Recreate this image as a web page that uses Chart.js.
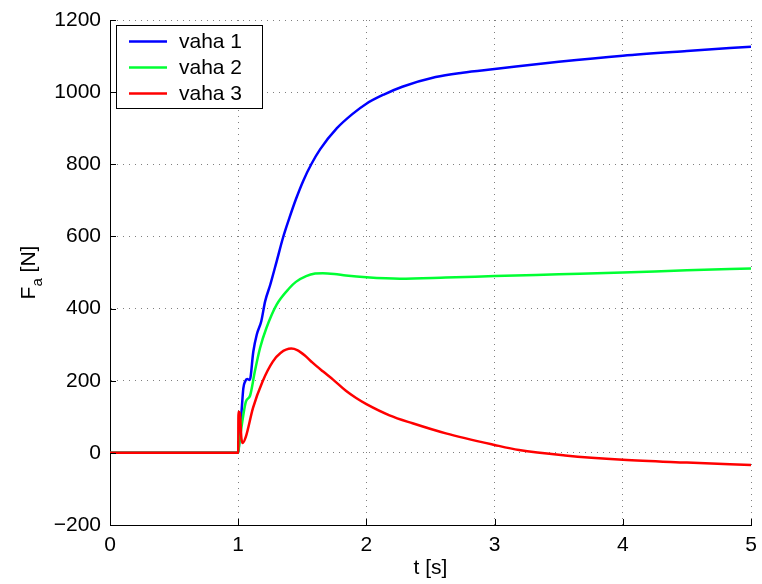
<!DOCTYPE html>
<html>
<head>
<meta charset="utf-8">
<script src="https://cdn.jsdelivr.net/npm/chart.js@4.4.1/dist/chart.umd.min.js"></script>
<style>
  html, body { margin: 0; padding: 0; background: #fff; }
  #wrap { width: 762px; height: 584px; }
</style>
</head>
<body>
<div id="wrap"><canvas id="fa-chart" width="762" height="584"></canvas></div>
<script>
// time samples [s] and force [N] for each scale
var t1 = [0, 1.0, 1.01, 1.028, 1.04, 1.054, 1.07, 1.09, 1.118, 1.145, 1.18, 1.21, 1.25, 1.30, 1.35, 1.40, 1.45, 1.507, 1.57, 1.64, 1.77, 1.89, 2.0, 2.14, 2.28, 2.54, 2.75, 3.0, 3.5, 4.0, 4.5, 5.0];
var vaha1 = [0, 0, 40, 124, 179, 198, 205, 202, 281, 328, 365, 420, 466, 531, 597, 652, 703, 754, 800, 842, 900, 939, 968, 994, 1015, 1042, 1054, 1064, 1084, 1101, 1114, 1126];

var t2 = [0, 1.0, 1.01, 1.04, 1.06, 1.093, 1.13, 1.17, 1.22, 1.30, 1.40, 1.45, 1.53, 1.60, 1.66, 1.75, 1.84, 2.0, 2.26, 2.62, 3.0, 3.5, 4.0, 4.5, 5.0];
var vaha2 = [0, 0, 30, 105, 142, 159, 226, 290, 346, 411, 457, 474, 490, 497, 498, 496, 492, 487, 483, 486, 490, 495, 500, 506, 511];

var t3 = [0, 1.0, 1.002, 1.012, 1.025, 1.035, 1.06, 1.115, 1.19, 1.27, 1.33, 1.414, 1.46, 1.52, 1.58, 1.66, 1.74, 1.84, 1.92, 2.0, 2.18, 2.36, 2.62, 3.0, 3.19, 3.55, 4.0, 4.5, 5.0];
var vaha3 = [0, 0, 114, 110, 40, 27, 45, 124, 198, 253, 277, 289, 285, 270, 250, 226, 203, 172, 152, 135, 104, 82, 54, 22, 8, -7, -19, -27, -34];

var xTicks = [0, 1, 2, 3, 4, 5];
var yTicks = [-200, 0, 200, 400, 600, 800, 1000, 1200];

var FONT = "'Liberation Sans', Arial, Helvetica, sans-serif";
var FSIZE = 21;

function toPoints(ts, vs) {
  return ts.map(function (t, i) { return { x: t, y: vs[i] }; });
}

// inward ticks, y label with subscript, x label and the boxed legend
var axisDecor = {
  id: 'axisDecor',
  afterDraw: function (chart) {
    var ctx = chart.ctx, a = chart.chartArea;
    var xs = chart.scales.x, ys = chart.scales.y;
    ctx.save();
    ctx.strokeStyle = '#000';
    ctx.lineWidth = 1;
    ctx.beginPath();
    xs.ticks.forEach(function (tk) {
      var px = Math.round(xs.getPixelForValue(tk.value)) + 0.5;
      ctx.moveTo(px, a.bottom);
      ctx.lineTo(px, a.bottom - 6);
    });
    ys.ticks.forEach(function (tk) {
      var py = Math.round(ys.getPixelForValue(tk.value)) + 0.5;
      ctx.moveTo(a.left, py);
      ctx.lineTo(a.left + 6, py);
    });
    ctx.stroke();

    ctx.fillStyle = '#000';
    ctx.textBaseline = 'middle';

    // x axis label
    ctx.font = FSIZE + 'px ' + FONT;
    ctx.textAlign = 'center';
    ctx.fillText('t [s]', (a.left + a.right) / 2, 568);

    // y axis label: F_a [N]
    ctx.save();
    ctx.translate(29, (a.top + a.bottom) / 2);
    ctx.rotate(-Math.PI / 2);
    ctx.textAlign = 'left';
    ctx.font = FSIZE + 'px ' + FONT;
    var wF = ctx.measureText('F').width;
    var wN = ctx.measureText(' [N]').width;
    ctx.font = '15px ' + FONT;
    var wa = ctx.measureText('a').width;
    var x0 = -(wF + wa + wN) / 2;
    ctx.font = FSIZE + 'px ' + FONT;
    ctx.fillText('F', x0, 0);
    ctx.font = '15px ' + FONT;
    ctx.fillText('a', x0 + wF, 9);
    ctx.font = FSIZE + 'px ' + FONT;
    ctx.fillText(' [N]', x0 + wF + wa, 0);
    ctx.restore();

    // legend box
    var bx = 116.5, by = 25.5, bw = 146, bh = 83;
    ctx.fillStyle = '#fff';
    ctx.fillRect(bx, by, bw, bh);
    ctx.strokeStyle = '#000';
    ctx.lineWidth = 1;
    ctx.strokeRect(bx, by, bw, bh);
    ctx.font = FSIZE + 'px ' + FONT;
    ctx.textAlign = 'left';
    chart.data.datasets.forEach(function (ds, i) {
      var ry = 41.5 + i * 26;
      ctx.strokeStyle = ds.borderColor;
      ctx.lineWidth = 2.5;
      ctx.beginPath();
      ctx.moveTo(129, ry);
      ctx.lineTo(167, ry);
      ctx.stroke();
      ctx.fillStyle = '#000';
      ctx.fillText(ds.label, 179, ry + 1);
    });
    ctx.restore();
  }
};

var gridStyle = {
  color: 'rgba(0,0,0,0.5)',
  lineWidth: 1,
  drawTicks: false
};

var chart = new Chart(document.getElementById('fa-chart'), {
  type: 'line',
  data: {
    datasets: [
      { label: 'vaha 1', data: toPoints(t1, vaha1), borderColor: '#0000ff', order: 3 },
      { label: 'vaha 2', data: toPoints(t2, vaha2), borderColor: '#00ff33', order: 2 },
      { label: 'vaha 3', data: toPoints(t3, vaha3), borderColor: '#ff0000', order: 1 }
    ]
  },
  options: {
    responsive: false,
    animation: false,
    devicePixelRatio: 1,
    layout: { padding: { left: 0, top: 20, right: 11, bottom: 0 } },
    elements: {
      line: { borderWidth: 2.5, cubicInterpolationMode: 'monotone', fill: false },
      point: { radius: 0 }
    },
    plugins: {
      legend: { display: false },
      tooltip: { enabled: false }
    },
    scales: {
      x: {
        type: 'linear',
        min: 0, max: 5,
        afterBuildTicks: function (s) { s.ticks = xTicks.map(function (v) { return { value: v }; }); },
        afterFit: function (s) { s.height = 59; s.paddingRight = 0; },
        grid: gridStyle,
        border: { display: true, color: '#000', width: 1, dash: [1, 5] },
        ticks: { color: '#000', padding: 8, font: { family: FONT, size: FSIZE }, maxRotation: 0 }
      },
      y: {
        type: 'linear',
        min: -200, max: 1200,
        afterBuildTicks: function (s) { s.ticks = yTicks.map(function (v) { return { value: v }; }); },
        afterFit: function (s) { s.width = 110; s.paddingTop = 0; },
        grid: gridStyle,
        border: { display: true, color: '#000', width: 1, dash: [1, 5] },
        ticks: {
          color: '#000', padding: 9, font: { family: FONT, size: FSIZE },
          callback: function (v) { return v < 0 ? '\u2212' + Math.abs(v) : String(v); }
        }
      }
    }
  },
  plugins: [axisDecor]
});
</script>
</body>
</html>
